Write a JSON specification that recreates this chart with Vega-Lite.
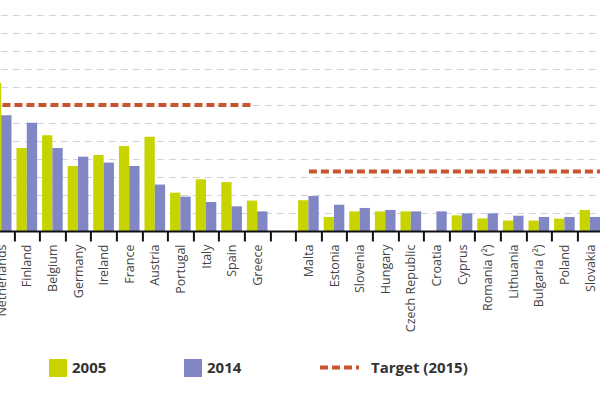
{
  "$schema": "https://vega.github.io/schema/vega-lite/v6.json",
  "width": 614.4,
  "height": 216,
  "autosize": {"type": "none"},
  "padding": {"left": -11.6, "top": 15, "right": -2.8, "bottom": 169},
  "config": {
    "view": {"stroke": null},
    "font": "Open Sans"
  },
  "datasets": {
    "bars": [
      {"country": "Netherlands", "year": "2005", "value": 8.24},
      {"country": "Netherlands", "year": "2014", "value": 6.43},
      {"country": "Finland", "year": "2005", "value": 4.61},
      {"country": "Finland", "year": "2014", "value": 6.02},
      {"country": "Belgium", "year": "2005", "value": 5.32},
      {"country": "Belgium", "year": "2014", "value": 4.61},
      {"country": "Germany", "year": "2005", "value": 3.61},
      {"country": "Germany", "year": "2014", "value": 4.13},
      {"country": "Ireland", "year": "2005", "value": 4.22},
      {"country": "Ireland", "year": "2014", "value": 3.8},
      {"country": "France", "year": "2005", "value": 4.72},
      {"country": "France", "year": "2014", "value": 3.61},
      {"country": "Austria", "year": "2005", "value": 5.24},
      {"country": "Austria", "year": "2014", "value": 2.58},
      {"country": "Portugal", "year": "2005", "value": 2.13},
      {"country": "Portugal", "year": "2014", "value": 1.91},
      {"country": "Italy", "year": "2005", "value": 2.87},
      {"country": "Italy", "year": "2014", "value": 1.61},
      {"country": "Spain", "year": "2005", "value": 2.72},
      {"country": "Spain", "year": "2014", "value": 1.37},
      {"country": "Greece", "year": "2005", "value": 1.69},
      {"country": "Greece", "year": "2014", "value": 1.09},
      {"country": "Malta", "year": "2005", "value": 1.71},
      {"country": "Malta", "year": "2014", "value": 1.94},
      {"country": "Estonia", "year": "2005", "value": 0.78},
      {"country": "Estonia", "year": "2014", "value": 1.46},
      {"country": "Slovenia", "year": "2005", "value": 1.09},
      {"country": "Slovenia", "year": "2014", "value": 1.28},
      {"country": "Hungary", "year": "2005", "value": 1.09},
      {"country": "Hungary", "year": "2014", "value": 1.17},
      {"country": "Czech Republic", "year": "2005", "value": 1.09},
      {"country": "Czech Republic", "year": "2014", "value": 1.09},
      {"country": "Croatia", "year": "2014", "value": 1.09},
      {"country": "Cyprus", "year": "2005", "value": 0.87},
      {"country": "Cyprus", "year": "2014", "value": 0.98},
      {"country": "Romania (²)", "year": "2005", "value": 0.7},
      {"country": "Romania (²)", "year": "2014", "value": 0.98},
      {"country": "Lithuania", "year": "2005", "value": 0.58},
      {"country": "Lithuania", "year": "2014", "value": 0.85},
      {"country": "Bulgaria (²)", "year": "2005", "value": 0.58},
      {"country": "Bulgaria (²)", "year": "2014", "value": 0.78},
      {"country": "Poland", "year": "2005", "value": 0.69},
      {"country": "Poland", "year": "2014", "value": 0.78},
      {"country": "Slovakia", "year": "2005", "value": 1.17},
      {"country": "Slovakia", "year": "2014", "value": 0.78}
    ],
    "targets_left": [
      {"start": "Netherlands", "end": "Greece", "target": 7, "label": "Target (2015)"}
    ],
    "targets_right": [
      {"start": "Malta", "end": "Slovakia", "target": 3.3, "label": "Target (2015)"}
    ]
  },
  "layer": [
    {
      "data": {"name": "bars"},
      "mark": {"type": "bar"},
      "encoding": {
        "x": {
          "field": "country",
          "type": "nominal",
          "sort": null,
          "scale": {
            "domain": ["Netherlands", "Finland", "Belgium", "Germany", "Ireland", "France", "Austria", "Portugal", "Italy", "Spain", "Greece", "gap", "Malta", "Estonia", "Slovenia", "Hungary", "Czech Republic", "Croatia", "Cyprus", "Romania (²)", "Lithuania", "Bulgaria (²)", "Poland", "Slovakia"],
            "paddingInner": 0,
            "paddingOuter": 0
          },
          "axis": {
            "title": null,
            "tickBand": "extent",
            "domainColor": "#111111",
            "domainWidth": 2,
            "tickColor": "#111111",
            "tickWidth": 2,
            "tickSize": 10,
            "labelAngle": -90,
            "labelAlign": "right",
            "labelBaseline": "middle",
            "labelPadding": 3,
            "labelFont": "Open Sans",
            "labelFontSize": 12.5,
            "labelColor": "#444444",
            "labelExpr": "datum.value == 'gap' ? '' : datum.value",
            "labelOverlap": false,
            "grid": false,
            "zindex": 1
          }
        },
        "xOffset": {
          "field": "year",
          "type": "nominal",
          "scale": {"paddingInner": 0, "paddingOuter": 0.24}
        },
        "y": {
          "field": "value",
          "type": "quantitative",
          "scale": {"domain": [0, 12], "nice": false, "zero": true},
          "axis": {
            "title": null,
            "labels": false,
            "ticks": false,
            "domain": false,
            "grid": true,
            "tickCount": 12,
            "gridColor": "#d3d3d3",
            "gridDash": [7, 5],
            "gridWidth": 1
          }
        },
        "color": {
          "field": "year",
          "type": "nominal",
          "scale": {"domain": ["2005", "2014"], "range": ["#c8d400", "#8187c5"]},
          "legend": {
            "title": null,
            "orient": "none",
            "direction": "horizontal",
            "legendX": 60.6,
            "legendY": 344,
            "padding": 0,
            "symbolType": "square",
            "symbolSize": 324,
            "symbolStrokeWidth": 0,
            "labelFont": "Open Sans",
            "labelFontSize": 15,
            "labelFontWeight": "bold",
            "labelColor": "#333333",
            "labelOffset": 5,
            "columnPadding": 77
          }
        }
      }
    },
    {
      "data": {"name": "targets_left"},
      "mark": {"type": "rule", "color": "#c9552f", "strokeWidth": 4, "strokeCap": "butt"},
      "encoding": {
        "x": {"field": "start", "type": "nominal", "bandPosition": 0.55},
        "x2": {"field": "end", "bandPosition": 0.37},
        "y": {"field": "target", "type": "quantitative"},
        "strokeDash": {
          "field": "label",
          "type": "nominal",
          "scale": {"domain": ["Target (2015)"], "range": [[8, 4]]},
          "legend": {
            "title": null,
            "orient": "none",
            "legendX": 329.6,
            "legendY": 331,
            "padding": 0,
            "symbolType": "stroke",
            "symbolStrokeColor": "#c9552f",
            "symbolStrokeWidth": 4,
            "symbolSize": 1521,
            "labelFont": "Open Sans",
            "labelFontSize": 15,
            "labelFontWeight": "bold",
            "labelColor": "#333333",
            "labelOffset": 10
          }
        }
      }
    },
    {
      "data": {"name": "targets_right"},
      "mark": {"type": "rule", "color": "#c9552f", "strokeWidth": 4, "strokeCap": "butt"},
      "encoding": {
        "x": {"field": "start", "type": "nominal", "bandPosition": 0.52},
        "x2": {"field": "end", "bandPosition": 1},
        "y": {"field": "target", "type": "quantitative"},
        "strokeDash": {"field": "label", "type": "nominal"}
      }
    }
  ]
}
